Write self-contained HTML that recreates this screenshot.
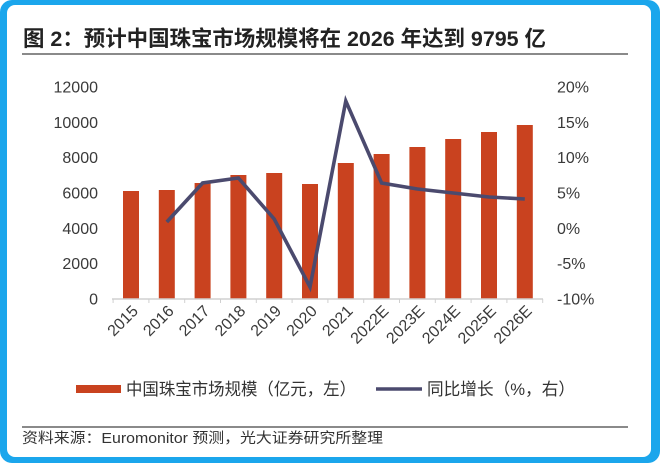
<!DOCTYPE html>
<html><head><meta charset="utf-8"><style>
html,body{margin:0;padding:0;background:#fff;}
body{width:660px;height:463px;overflow:hidden;}
svg{display:block;}
</style></head><body>
<svg width="660" height="463" viewBox="0 0 660 463" xmlns="http://www.w3.org/2000/svg">
<rect x="0" y="0" width="660" height="463" rx="12" fill="#1ba6ec"/>
<rect x="7" y="5" width="644" height="452" rx="8" fill="#ffffff"/>

<text x="23" y="46" font-family="Liberation Sans, Noto Sans CJK SC, sans-serif" font-size="21.5" font-weight="bold" fill="#222" textLength="523" lengthAdjust="spacingAndGlyphs">图 2：预计中国珠宝市场规模将在 2026 年达到 9795 亿</text>
<line x1="22" y1="54" x2="628" y2="54" stroke="#8a8a8a" stroke-width="2"/>

<g font-family="Liberation Sans, sans-serif" font-size="16" fill="#3a3a3a">
<g text-anchor="end">
<text x="98" y="92.5">12000</text>
<text x="98" y="127.8">10000</text>
<text x="98" y="163.2">8000</text>
<text x="98" y="198.5">6000</text>
<text x="98" y="233.8">4000</text>
<text x="98" y="269.2">2000</text>
<text x="98" y="304.5">0</text>
</g>
<g text-anchor="start">
<text x="557" y="92.5">20%</text>
<text x="557" y="127.8">15%</text>
<text x="557" y="163.2">10%</text>
<text x="557" y="198.5">5%</text>
<text x="557" y="233.8">0%</text>
<text x="557" y="269.2">-5%</text>
<text x="557" y="304.5">-10%</text>
</g>
</g>

<g fill="#c9421f">
<rect x="123" y="191" width="16" height="108"/>
<rect x="158.8" y="190" width="16" height="109"/>
<rect x="194.6" y="183" width="16" height="116"/>
<rect x="230.4" y="175" width="16" height="124"/>
<rect x="266.2" y="173" width="16" height="126"/>
<rect x="302" y="184" width="16" height="115"/>
<rect x="337.8" y="163" width="16" height="136"/>
<rect x="373.6" y="154" width="16" height="145"/>
<rect x="409.4" y="147" width="16" height="152"/>
<rect x="445.2" y="139" width="16" height="160"/>
<rect x="481" y="132" width="16" height="167"/>
<rect x="516.8" y="125" width="16" height="174"/>
</g>

<line x1="112" y1="299" x2="543" y2="299" stroke="#d0d0d0" stroke-width="1.5"/>
<g stroke="#d0d0d0" stroke-width="1">
<line x1="113.1" y1="299" x2="113.1" y2="303"/>
<line x1="148.9" y1="299" x2="148.9" y2="303"/>
<line x1="184.7" y1="299" x2="184.7" y2="303"/>
<line x1="220.5" y1="299" x2="220.5" y2="303"/>
<line x1="256.3" y1="299" x2="256.3" y2="303"/>
<line x1="292.1" y1="299" x2="292.1" y2="303"/>
<line x1="327.9" y1="299" x2="327.9" y2="303"/>
<line x1="363.7" y1="299" x2="363.7" y2="303"/>
<line x1="399.5" y1="299" x2="399.5" y2="303"/>
<line x1="435.3" y1="299" x2="435.3" y2="303"/>
<line x1="471.1" y1="299" x2="471.1" y2="303"/>
<line x1="506.9" y1="299" x2="506.9" y2="303"/>
<line x1="542.7" y1="299" x2="542.7" y2="303"/>
</g>

<polyline points="166.8,222 202.6,183 238.4,178 274.2,219 310,287 345.8,101 381.6,183 417.4,189 453.2,193 489,197 524.8,199" fill="none" stroke="#4b4a6e" stroke-width="3.6" stroke-linejoin="miter" stroke-miterlimit="10"/>

<g font-family="Liberation Sans, sans-serif" font-size="16" fill="#3a3a3a" text-anchor="end">
<text transform="translate(139,312) rotate(-45)">2015</text>
<text transform="translate(174.8,312) rotate(-45)">2016</text>
<text transform="translate(210.6,312) rotate(-45)">2017</text>
<text transform="translate(246.4,312) rotate(-45)">2018</text>
<text transform="translate(282.2,312) rotate(-45)">2019</text>
<text transform="translate(318,312) rotate(-45)">2020</text>
<text transform="translate(353.8,312) rotate(-45)">2021</text>
<text transform="translate(389.6,312) rotate(-45)">2022E</text>
<text transform="translate(425.4,312) rotate(-45)">2023E</text>
<text transform="translate(461.2,312) rotate(-45)">2024E</text>
<text transform="translate(497,312) rotate(-45)">2025E</text>
<text transform="translate(532.8,312) rotate(-45)">2026E</text>
</g>

<rect x="76" y="385" width="45" height="8" fill="#c9421f"/>
<text x="126" y="395" font-family="Liberation Sans, Noto Sans CJK SC, sans-serif" font-size="17" fill="#333" textLength="230" lengthAdjust="spacingAndGlyphs">中国珠宝市场规模（亿元，左）</text>
<line x1="376" y1="389" x2="422" y2="389" stroke="#4b4a6e" stroke-width="3.6"/>
<text x="427" y="395" font-family="Liberation Sans, Noto Sans CJK SC, sans-serif" font-size="17" fill="#333" textLength="148" lengthAdjust="spacingAndGlyphs">同比增长（%，右）</text>

<line x1="22" y1="427" x2="628" y2="427" stroke="#8a8a8a" stroke-width="2"/>
<text x="22" y="443" font-family="Liberation Sans, Noto Sans CJK SC, sans-serif" font-size="14.5" fill="#333" textLength="361" lengthAdjust="spacingAndGlyphs">资料来源：Euromonitor 预测，光大证券研究所整理</text>
</svg>
</body></html>
